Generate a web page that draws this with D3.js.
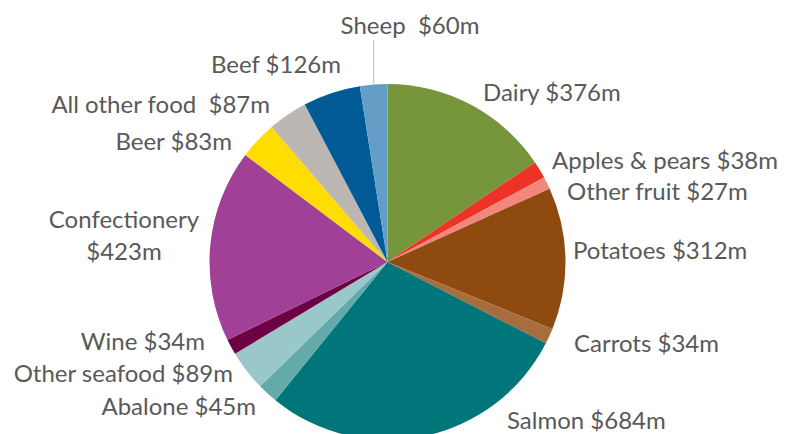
<!DOCTYPE html>
<html>
<head>
<meta charset="utf-8">
<script src="https://cdn.jsdelivr.net/npm/d3@7"></script>
<style>
  html, body { margin: 0; padding: 0; background: #fff; }
  svg { display: block; }
  text { font-family: Lato, "Open Sans", sans-serif; fill: #595959; }
</style>
</head>
<body>
<svg id="chart" width="787" height="434"></svg>
<script>
const categories = ["Dairy", "Apples & pears", "Other fruit", "Potatoes", "Carrots", "Salmon",
  "Abalone", "Other seafood", "Wine", "Confectionery", "Beer", "All other food", "Beef", "Sheep"];
const values = [376, 38, 27, 312, 34, 684, 45, 89, 34, 423, 83, 87, 126, 60];
const labels = [
  ["Dairy $376m"], ["Apples & pears $38m"], ["Other fruit $27m"], ["Potatoes $312m"],
  ["Carrots $34m"], ["Salmon $684m"], ["Abalone $45m"], ["Other seafood $89m"],
  ["Wine $34m"], ["Confectionery", "$423m"], ["Beer $83m"], ["All other food\u00a0 $87m"],
  ["Beef $126m"], ["Sheep\u00a0 $60m"]
];
const colors = ["#77953A", "#EE3226", "#F4877D", "#8F4A10", "#A86D3F", "#00767A",
  "#64AAAB", "#9AC8CA", "#6D0045", "#A04096", "#FFDD00", "#BDB7B4", "#005A95", "#649DC5"];

// label layout (x, baseline y, anchor)
const labelLayout = [
  [483, 101, "start"], [552, 169, "start"], [567, 200, "start"], [573, 259, "start"],
  [574, 352, "start"], [507, 429, "start"], [256, 415, "end"], [233, 382, "end"],
  [205, 350, "end"], [124, 228, "middle"], [232, 150, "end"], [270, 113, "end"],
  [341, 73, "end"], [410, 34, "middle"]
];

const svg = d3.select("#chart");
const cx = 387.5, cy = 262, r = 178;
const g = svg.append("g").attr("transform", `translate(${cx},${cy})`);

const data = categories.map((c, i) => ({ name: c, value: values[i], color: colors[i], label: labels[i] }));
const pie = d3.pie().sort(null).value(d => d.value);
const arc = d3.arc().innerRadius(0).outerRadius(r);
const arcs = pie(data);

g.selectAll("path").data(arcs).join("path")
  .attr("d", arc)
  .attr("fill", d => d.data.color);

// leader line for Sheep
const sheep = arcs[13];
const sa = (sheep.startAngle + sheep.endAngle) / 2;
const lx = r * Math.sin(sa);
svg.append("line")
  .attr("x1", cx + lx).attr("x2", cx + lx)
  .attr("y1", 40).attr("y2", cy - r * Math.cos(sa))
  .attr("stroke", "#BFBFBF").attr("stroke-width", 1);

const fs = 24;
svg.selectAll("text.lbl").data(data).join("text")
  .attr("class", "lbl")
  .attr("font-size", fs)
  .attr("text-anchor", (d, i) => labelLayout[i][2])
  .each(function(d, i) {
    const t = d3.select(this);
    d.label.forEach((line, j) => {
      t.append("tspan")
        .attr("x", labelLayout[i][0])
        .attr("y", labelLayout[i][1] + j * 32)
        .text(line);
    });
  });
</script>
</body>
</html>
